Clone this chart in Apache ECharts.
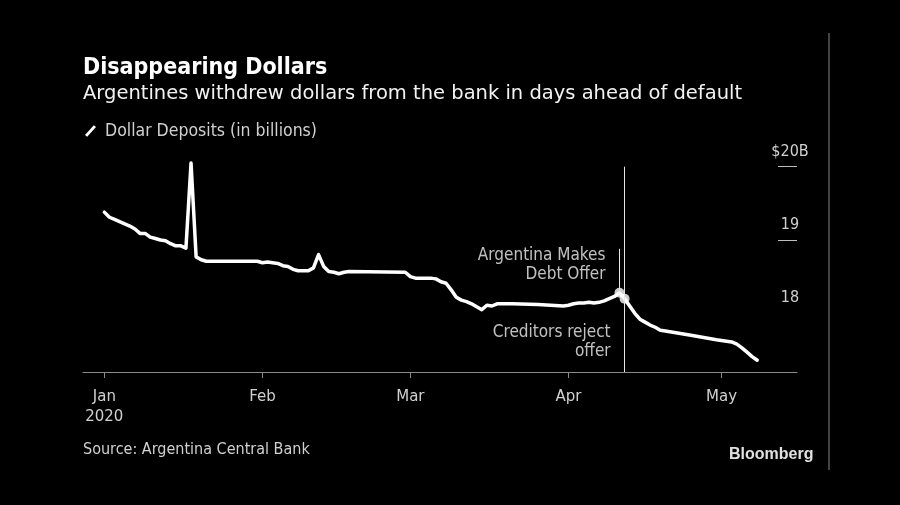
<!DOCTYPE html>
<html>
<head>
<meta charset="utf-8">
<script src="https://cdn.jsdelivr.net/npm/echarts@6/dist/echarts.min.js"></script>
<style>
    html, body { margin: 0; padding: 0; background: #000; }
    #chart { width: 900px; height: 505px; }
</style>
</head>
<body>
<div id="chart"></div>
<script>
    // Dollar deposits, billions of USD
    const dates = [
        '2020-01-01', '2020-01-02', '2020-01-03', '2020-01-04', '2020-01-05', '2020-01-06',
        '2020-01-07', '2020-01-08', '2020-01-09', '2020-01-10', '2020-01-11', '2020-01-12',
        '2020-01-13', '2020-01-14', '2020-01-15', '2020-01-16', '2020-01-17', '2020-01-18',
        '2020-01-19', '2020-01-20', '2020-01-21', '2020-01-31',
        '2020-02-01', '2020-02-02', '2020-02-03', '2020-02-04', '2020-02-05', '2020-02-06',
        '2020-02-07', '2020-02-08', '2020-02-10', '2020-02-11', '2020-02-12', '2020-02-13',
        '2020-02-14', '2020-02-15', '2020-02-16', '2020-02-17', '2020-02-18', '2020-02-29',
        '2020-03-01', '2020-03-02', '2020-03-05', '2020-03-06', '2020-03-07', '2020-03-08',
        '2020-03-09', '2020-03-10', '2020-03-11', '2020-03-12', '2020-03-13', '2020-03-14',
        '2020-03-15', '2020-03-16', '2020-03-17', '2020-03-18', '2020-03-19', '2020-03-21',
        '2020-03-26', '2020-03-31',
        '2020-04-01', '2020-04-02', '2020-04-03', '2020-04-04', '2020-04-05', '2020-04-06',
        '2020-04-07', '2020-04-08', '2020-04-09', '2020-04-10', '2020-04-11', '2020-04-12',
        '2020-04-13', '2020-04-14', '2020-04-15', '2020-04-16', '2020-04-17', '2020-04-18',
        '2020-04-19', '2020-04-20', '2020-04-25', '2020-04-30',
        '2020-05-03', '2020-05-04', '2020-05-05', '2020-05-06', '2020-05-07', '2020-05-08'
    ];
    const deposits = [
        19.38, 19.31, 19.28, 19.25, 19.22, 19.19,
        19.15, 19.09, 19.09, 19.04, 19.02, 19.00,
        18.99, 18.95, 18.92, 18.92, 18.89, 20.05,
        18.77, 18.73, 18.71, 18.71,
        18.69, 18.70, 18.69, 18.68, 18.65, 18.64,
        18.60, 18.58, 18.58, 18.62, 18.80, 18.64,
        18.57, 18.56, 18.54, 18.56, 18.57, 18.56,
        18.50, 18.48, 18.48, 18.47, 18.43, 18.41,
        18.32, 18.22, 18.18, 18.16, 18.13, 18.09,
        18.05, 18.11, 18.10, 18.13, 18.13, 18.13,
        18.12, 18.10,
        18.11, 18.13, 18.14, 18.14, 18.15, 18.14,
        18.15, 18.17, 18.20, 18.23, 18.28, 18.20,
        18.10, 18.00, 17.92, 17.88, 17.84, 17.81,
        17.77, 17.76, 17.70, 17.64,
        17.61, 17.58, 17.53, 17.47, 17.41, 17.36
    ];

    // events marked on the line
    const eventDates = ['2020-04-11', '2020-04-12'];
    const eventLabels = ['Argentina Makes\nDebt Offer', 'Creditors reject\noffer'];

    const monthTicks = ['2020-01-01', '2020-02-01', '2020-03-01', '2020-04-01', '2020-05-01'];
    const monthNames = ['Jan\n2020', 'Feb', 'Mar', 'Apr', 'May'];
    const yLabels = [18, 19, 20];
    const yTicks = [19, 20];

    const FONT = 'DejaVu Sans Condensed';
    const WIDE = 'DejaVu Sans';
    const DAY = 24 * 3600 * 1000;
    // x axis runs in days since Jan 1 2020
    const dayOf = s => Math.round((echarts.time.parse(s).getTime() - echarts.time.parse('2020-01-01').getTime()) / DAY);

    const monthDays = monthTicks.map(dayOf);
    const seriesData = dates.map((d, i) => [dayOf(d), deposits[i]]);
    const eventData = eventDates.map(d => [dayOf(d), deposits[dates.indexOf(d)]]);

    const chart = echarts.init(document.getElementById('chart'));

    const eventLabel = (text, offset) => ({
        show: true, position: 'left', distance: 5, offset: offset,
        align: 'right', lineHeight: 19, color: '#f0f0f0', fontSize: 17,
        fontFamily: FONT, formatter: text
    });

    chart.setOption({
        backgroundColor: '#000',
        animation: false,
        textStyle: { fontFamily: FONT },
        title: {
            text: 'Disappearing Dollars',
            subtext: 'Argentines withdrew dollars from the bank in days ahead of default',
            left: 78,
            top: 52,
            itemGap: 4,
            textStyle: { color: '#fff', fontSize: 23, fontWeight: 'bold', fontFamily: FONT },
            subtextStyle: { color: '#f2f2f2', fontSize: 19.5, fontFamily: WIDE }
        },
        legend: {
            left: 80,
            top: 117,
            itemWidth: 11,
            itemHeight: 13,
            icon: 'path://M0,9 L8,0 L10,1.6 L2,10.6 Z',
            textStyle: { color: '#d0d0d0', fontSize: 17.5, fontFamily: FONT, padding: [0, 0, 0, 4] },
            data: [{ name: 'Dollar Deposits (in billions)', itemStyle: { color: '#fff' } }]
        },
        grid: {
            left: 83,
            right: 103,
            top: 152,
            bottom: 133,
            containLabel: false
        },
        xAxis: {
            type: 'value',
            min: -4.18,
            max: 135.8,
            axisLine: { show: true, onZero: false, lineStyle: { color: '#8a8a8a', width: 1 } },
            axisTick: { show: true, length: 6, customValues: monthDays, lineStyle: { color: '#8a8a8a' } },
            axisLabel: {
                customValues: monthDays,
                color: '#d0d0d0',
                fontSize: 15,
                lineHeight: 20,
                margin: 15,
                fontFamily: WIDE,
                formatter: function (v) {
                    let i = monthDays.indexOf(v);
                    return i >= 0 ? monthNames[i] : '';
                }
            },
            splitLine: { show: false }
        },
        yAxis: {
            type: 'value',
            position: 'right',
            offset: -19,
            min: 17.2,
            max: 20.2,
            axisLine: { show: false, onZero: false },
            splitLine: { show: false },
            axisTick: {
                show: true,
                length: 19,
                customValues: yTicks,
                lineStyle: { color: '#bdbdbd', width: 1 }
            },
            axisLabel: {
                customValues: yLabels,
                margin: 12,
                align: 'center',
                verticalAlign: 'bottom',
                padding: [0, 0, 7, 0],
                color: '#d0d0d0',
                fontSize: 16,
                fontFamily: FONT,
                formatter: v => (v === 20 ? '$20B' : String(v))
            }
        },
        series: [
            {
                name: 'Dollar Deposits (in billions)',
                type: 'line',
                data: seriesData,
                showSymbol: false,
                symbol: 'none',
                lineStyle: { color: '#fff', width: 3.5, join: 'round', cap: 'round' },
                itemStyle: { color: '#fff' },
                silent: true,
                z: 3,
                markLine: {
                    silent: true,
                    symbol: 'none',
                    label: { show: false },
                    lineStyle: { color: '#e6e6e6', width: 1, type: 'solid' },
                    data: [
                        [{ coord: [eventData[1][0], 20] }, { coord: [eventData[1][0], 17.2] }],
                        [{ coord: eventData[0] }, { coord: [eventData[0][0], 18.88] }]
                    ]
                }
            },
            {
                name: 'events',
                type: 'scatter',
                symbolSize: 10,
                itemStyle: { color: '#fff' },
                silent: true,
                z: 4,
                data: [
                    { value: eventData[0], label: eventLabel(eventLabels[0], [-4, -28]) },
                    { value: eventData[1], label: eventLabel(eventLabels[1], [-4, 43]) }
                ]
            }
        ],
        graphic: [
            {
                type: 'line',
                shape: { x1: 829, y1: 33, x2: 829, y2: 470 },
                style: { stroke: '#5a5a5a', lineWidth: 1.5 }
            },
            {
                type: 'text',
                left: 83,
                top: 442,
                style: { text: 'Source: Argentina Central Bank', fill: '#d0d0d0', fontSize: 16, fontFamily: FONT }
            },
            {
                type: 'text',
                left: 729,
                top: 447,
                style: { text: 'Bloomberg', fill: '#e0e0e0', fontSize: 16, fontWeight: 'bold', fontFamily: 'Liberation Sans' }
            }
        ]
    });
</script>
</body>
</html>
